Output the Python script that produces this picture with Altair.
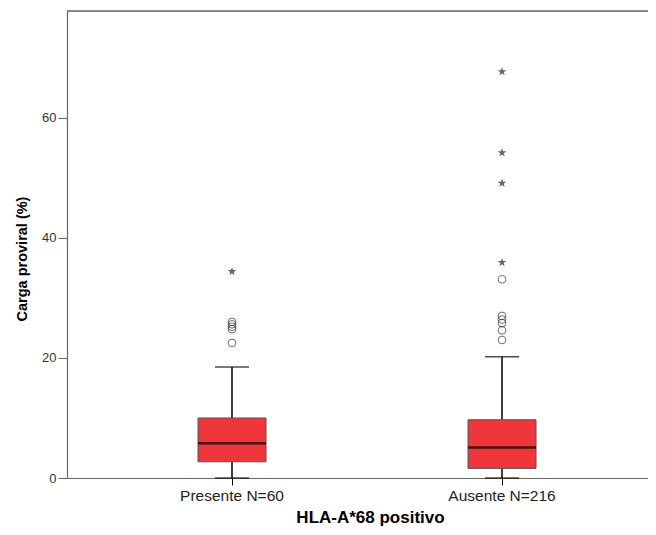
import altair as alt
import pandas as pd

categories = ["Presente N=60", "Ausente N=216"]
whisker_low = [0.0, 0.0]
q1 = [2.7, 1.6]
median = [5.8, 5.1]
q3 = [10.0, 9.7]
whisker_high = [18.5, 20.2]

outlier_cat = ["Presente N=60"] * 5 + ["Ausente N=216"] * 6
outlier_val = [22.5, 24.8, 25.2, 25.6, 26.0, 23.0, 24.6, 25.8, 26.4, 27.0, 33.1]

extreme_cat = ["Presente N=60"] + ["Ausente N=216"] * 4
extreme_val = [34.4, 35.9, 49.1, 54.2, 67.7]

W, H = 581, 467
FONT = "Liberation Sans"

stats = pd.DataFrame({
    "cat": categories, "lo": whisker_low, "q1": q1, "med": median,
    "q3": q3, "hi": whisker_high,
})
outl = pd.DataFrame({"cat": outlier_cat, "v": outlier_val})
extr = pd.DataFrame({"cat": extreme_cat, "v": extreme_val})

xscale = alt.Scale(domain=categories, paddingInner=0, paddingOuter=0.0759,
                   align=0.732, round=False)
yscale = alt.Scale(domain=[0, 77.8], nice=False, zero=True)

xenc = alt.X("cat:N", scale=xscale, sort=categories,
             axis=alt.Axis(title="HLA-A*68 positivo", labelAngle=0,
                           labelFont=FONT, labelFontSize=15.5, labelColor="#222",
                           titleFont=FONT, titleFontSize=17, titleFontWeight="bold",
                           titleColor="#000", tickSize=7, tickColor="#000",
                           domainColor="#666", domainWidth=1.2, labelPadding=3,
                           titleX=303, titleY=44, titleBaseline="alphabetic"))

yaxis = alt.Axis(title="Carga proviral (%)", values=[0, 20, 40, 60], grid=False,
                 labelFont=FONT, labelFontSize=13, labelColor="#333",
                 titleFont=FONT, titleFontSize=14.5, titleFontWeight="bold",
                 titleColor="#000", tickSize=9, tickColor="#666",
                 domainColor="#666", domainWidth=1.2, labelPadding=2,
                 titleX=-45, titleY=247.5, titleBaseline="middle", titleAngle=-90)

base = alt.Chart(stats)

whisk_low = base.mark_rule(color="#000", strokeWidth=1.5).encode(
    x=xenc, y=alt.Y("lo:Q", scale=yscale, axis=yaxis), y2="q1:Q")
whisk_high = base.mark_rule(color="#000", strokeWidth=1.5).encode(
    x="cat:N", y="q3:Q", y2="hi:Q")
cap_low = base.mark_tick(color="#000", size=34, thickness=1.5).encode(
    x="cat:N", y="lo:Q")
cap_high = base.mark_tick(color="#000", size=34, thickness=1.5).encode(
    x="cat:N", y="hi:Q")
box = base.mark_bar(size=68, fill="#EF363B", stroke="#555", strokeWidth=1).encode(
    x="cat:N", y="q1:Q", y2="q3:Q")
med = base.mark_tick(color="#000", size=68, thickness=2.5).encode(
    x="cat:N", y="med:Q")

circles = alt.Chart(outl).mark_point(shape="circle", filled=False, size=60,
                                     stroke="#333", strokeWidth=1).encode(
    x="cat:N", y="v:Q")

star_path = ("M0,-1L0.2245,-0.309L0.951,-0.309L0.363,0.118L0.588,0.809L0,0.382"
             "L-0.588,0.809L-0.363,0.118L-0.951,-0.309L-0.2245,-0.309Z")
stars = alt.Chart(extr).mark_point(shape=star_path, filled=True, size=85,
                                   color="#222", strokeWidth=0.5).encode(
    x="cat:N", y="v:Q")

top_line = alt.Chart(stats).mark_rule(color="#666", strokeWidth=1.2).encode(
    x=alt.value(0), x2=alt.value(W), y=alt.value(0))

chart = alt.layer(whisk_low, whisk_high, cap_low, cap_high, box, med,
                  circles, stars, top_line).properties(
    width=W, height=H,
    autosize=alt.AutoSizeParams(type="none"),
    padding={"left": 59, "top": 3, "right": 0, "bottom": 49},
).configure_view(stroke=None).configure(background="white")

chart.save("out.html", embed_options={"renderer": "svg", "actions": False})
